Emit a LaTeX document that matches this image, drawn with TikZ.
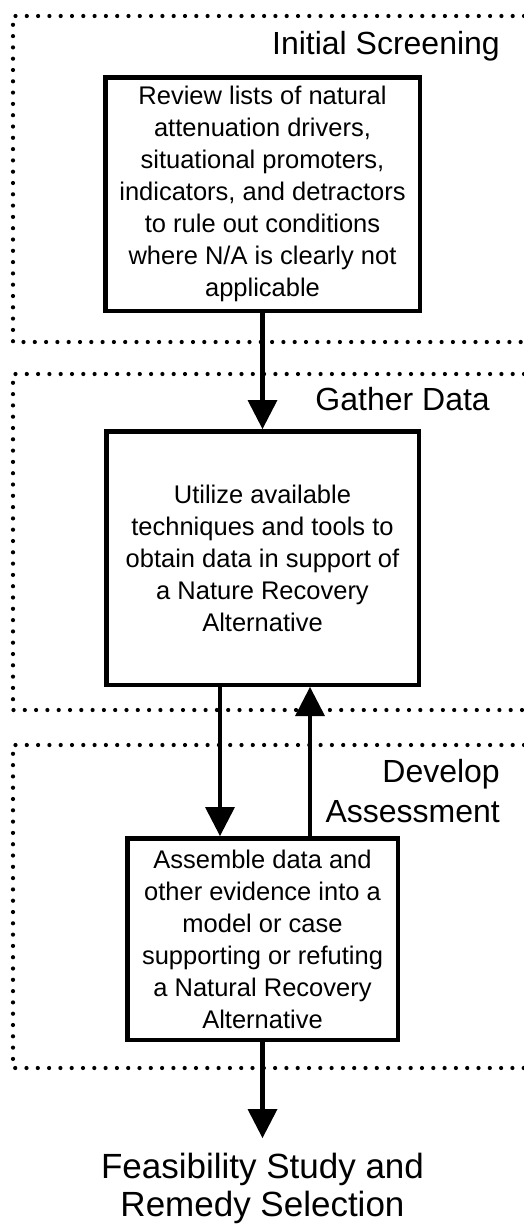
\documentclass[tikz,border=0pt]{standalone}
\usepackage{fontspec}
\setmainfont{Liberation Sans}
\usetikzlibrary{arrows.meta}
\begin{document}
\begin{tikzpicture}[x=1pt,y=-1pt,
  stepbox/.style={draw, line width=4.5pt, fill=white, align=center, inner sep=0pt, font=\fontsize{25.5}{32}\selectfont},
  region/.style={line width=4.2pt, line cap=round, dash pattern=on 0pt off 11.3pt},
  arr/.style={line width=4.5pt, -{Triangle[width=30pt,length=29pt,line width=0pt]}},
  lbl/.style={font=\fontsize{32}{40}\selectfont, inner sep=0pt}
]
\path[use as bounding box, fill=white] (0,0) rectangle (524,1224);

\draw[region] (524,16) -- (13,16) -- (13,342) -- (524,342);
\draw[region] (524,374) -- (13,374) -- (13,710) -- (524,710);
\draw[region] (524,745) -- (13,745) -- (13,1068) -- (524,1068);

\node[stepbox, minimum width=314.5pt, minimum height=233.5pt] (screen) at (262.5,194)
  {Review lists of natural\\attenuation drivers,\\situational promoters,\\indicators, and detractors\\to rule out conditions\\where N/A is clearly not\\applicable};
\node[stepbox, minimum width=312.5pt, minimum height=253.5pt] (gather) at (262.5,558)
  {Utilize available\\techniques and tools to\\obtain data in support of\\a Nature Recovery\\Alternative};
\node[stepbox, minimum width=270.5pt, minimum height=201.5pt] (assess) at (262.5,939)
  {Assemble data and\\other evidence into a\\model or case\\supporting or refuting\\a Natural Recovery\\Alternative};

\node[lbl, anchor=base east] (l1) at (500,54) {Initial Screening};
\node[lbl, anchor=base east] (l2) at (490,410) {Gather Data};
\node[lbl, anchor=north east, align=right] (l3) at (500,759) {Develop\\Assessment};
\node[font=\fontsize{35}{37.5}\selectfont, inner sep=0pt, anchor=north, align=center] (fs) at (262.5,1153)
  {Feasibility Study and\\Remedy Selection};

\draw[arr] (screen.south) -- (gather.north);
\draw[arr] ([xshift=-42.5pt]gather.south) -- ([xshift=-42.5pt]gather.south |- assess.north);
\draw[arr] ([xshift=47.5pt]assess.north) -- ([xshift=47.5pt]assess.north |- gather.south);
\draw[arr, shorten >=15pt] (assess.south) -- (fs.north);
\end{tikzpicture}
\end{document}
